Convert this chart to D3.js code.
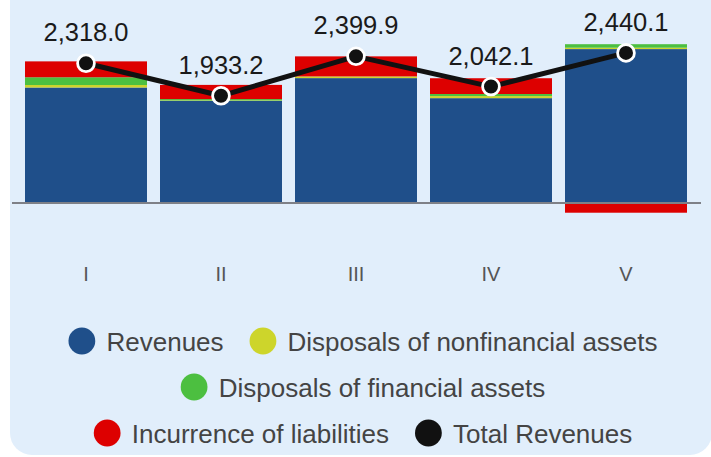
<!DOCTYPE html>
<html>
<head>
<meta charset="utf-8">
<script src="https://cdn.jsdelivr.net/npm/d3@7"></script>
<style>
  html, body { margin: 0; padding: 0; background: #fff; }
  svg { display: block; font-family: "Liberation Sans", Arial, sans-serif; }
</style>
</head>
<body>
<svg id="chart" width="711" height="457"></svg>
<script>
// data
const categories = ['I', 'II', 'III', 'IV', 'V'];
const revenues = [1890, 1671, 2044, 1716, 2519];
const nonfinancial = [41, 8, 28, 34, 23];
const financial = [127, 22, 0, 34, 57];
const liabilities = [260, 232, 328, 258, -159];
const totals = [2318.0, 1933.2, 2399.9, 2042.1, 2440.1];

const seriesKeys = ['revenues', 'nonfinancial', 'financial', 'liabilities'];
const colors = {
    revenues: '#1f4f8a',
    nonfinancial: '#cdd52b',
    financial: '#4cbf40',
    liabilities: '#dd0000',
    total: '#111111'
};
const legendRows = [
    [['revenues', 'Revenues'], ['nonfinancial', 'Disposals of nonfinancial assets']],
    [['financial', 'Disposals of financial assets']],
    [['liabilities', 'Incurrence of liabilities'], ['total', 'Total Revenues']]
];

const table = categories.map((c, i) => ({
    cat: c,
    revenues: revenues[i],
    nonfinancial: nonfinancial[i],
    financial: financial[i],
    liabilities: liabilities[i]
}));

const svg = d3.select('#chart');

// background panel
svg.append('rect')
    .attr('x', 10).attr('y', -30)
    .attr('width', 702).attr('height', 485)
    .attr('rx', 22)
    .attr('fill', '#e1eefb');

const x = d3.scaleBand().domain(categories).range([12, 700]).padding(0.0963);
const y = d3.scaleLinear().domain([-1000, 3000]).range([264.1, 19.7]);
const yLine = d3.scaleLinear().domain([0, 2800]).range([259.2, 22.5]);

const stack = d3.stack().keys(seriesKeys).offset(d3.stackOffsetDiverging);
const layers = stack(table);

svg.append('g').selectAll('g')
    .data(layers)
    .enter()
    .append('g')
    .attr('fill', d => colors[d.key])
    .selectAll('rect')
    .data(d => d)
    .enter()
    .append('rect')
    .attr('x', d => x(d.data.cat))
    .attr('y', d => y(d[1]))
    .attr('width', x.bandwidth())
    .attr('height', d => y(d[0]) - y(d[1]));

// zero line
svg.append('line')
    .attr('x1', 12).attr('x2', 701)
    .attr('y1', y(0)).attr('y2', y(0))
    .attr('stroke', '#7e8087')
    .attr('stroke-width', 2);

// category labels
const xAxis = svg.append('g')
    .attr('transform', 'translate(0,267)')
    .call(d3.axisBottom(x).tickSize(0).tickPadding(0));
xAxis.select('.domain').remove();
xAxis.selectAll('text')
    .attr('font-size', 20)
    .attr('fill', '#555')
    .attr('font-family', '"Liberation Sans", Arial, sans-serif');

// total line
const cx = (d, i) => x(categories[i]) + x.bandwidth() / 2;
svg.append('path')
    .datum(totals)
    .attr('fill', 'none')
    .attr('stroke', colors.total)
    .attr('stroke-width', 5)
    .attr('stroke-linejoin', 'round')
    .attr('d', d3.line().x(cx).y(d => yLine(d)));

svg.append('g').selectAll('circle')
    .data(totals)
    .enter()
    .append('circle')
    .attr('cx', cx)
    .attr('cy', d => yLine(d))
    .attr('r', 8.4)
    .attr('fill', colors.total)
    .attr('stroke', '#fff')
    .attr('stroke-width', 2.8);

svg.append('g').selectAll('text')
    .data(totals)
    .enter()
    .append('text')
    .attr('x', cx)
    .attr('y', d => yLine(d) - 22)
    .attr('text-anchor', 'middle')
    .attr('font-size', 25.5)
    .attr('fill', '#1a1a1a')
    .text(d => d3.format(',.1f')(d));

// legend
const legend = svg.append('g');
const rowY = [341, 387, 433];
legendRows.forEach((row, r) => {
    const g = legend.append('g');
    let pos = 0;
    row.forEach(([key, label], k) => {
        if (k > 0) pos += 26;
        g.append('circle')
            .attr('cx', pos + 13.4)
            .attr('cy', rowY[r])
            .attr('r', 13.4)
            .attr('fill', colors[key]);
        const t = g.append('text')
            .attr('x', pos + 38)
            .attr('y', rowY[r] + 9.5)
            .attr('font-size', 26)
            .attr('fill', '#444')
            .text(label);
        pos += 38 + t.node().getComputedTextLength();
    });
    g.attr('transform', `translate(${363 - pos / 2},0)`);
});
</script>
</body>
</html>
